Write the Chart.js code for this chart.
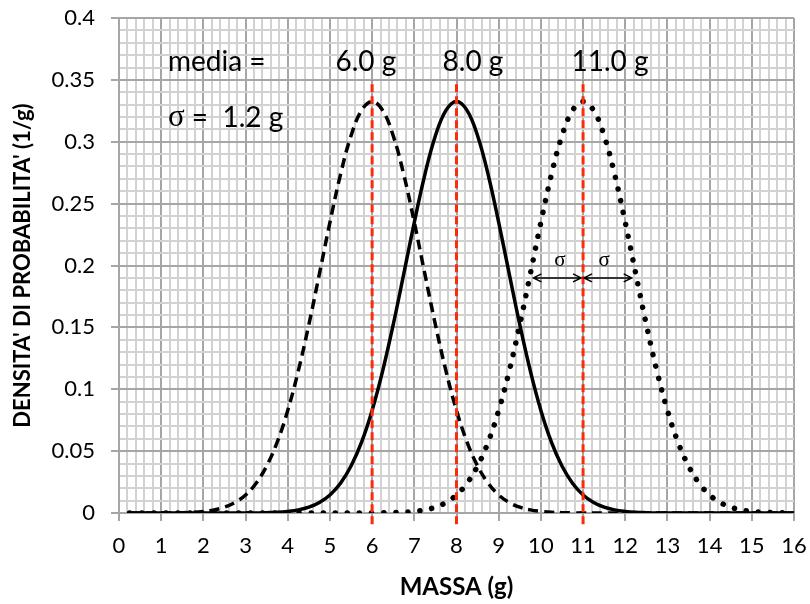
<!DOCTYPE html>
<html>
<head>
<meta charset="utf-8">
<script src="https://cdn.jsdelivr.net/npm/chart.js@4.4.0/dist/chart.umd.min.js"></script>
<style>
body { margin: 0; background: #fff; }
#box { width: 810px; height: 604px; }
</style>
</head>
<body>
<div id="box"><canvas id="chartGauss"></canvas></div>
<script>
// valori (massa in g, densita in 1/g)
const massa = [
    0.25, 0.5, 0.75, 1, 1.25, 1.5, 1.75, 2,
    2.25, 2.5, 2.75, 3, 3.25, 3.5, 3.75, 4,
    4.25, 4.5, 4.75, 5, 5.25, 5.5, 5.75, 6,
    6.25, 6.5, 6.75, 7, 7.25, 7.5, 7.75, 8,
    8.25, 8.5, 8.75, 9, 9.25, 9.5, 9.75, 10,
    10.25, 10.5, 10.75, 11, 11.25, 11.5, 11.75, 12,
    12.25, 12.5, 12.75, 13, 13.25, 13.5, 13.75, 14,
    14.25, 14.5, 14.75, 15, 15.25, 15.5, 15.75, 16
];
const densita6 = [
    0, 0, 0, 0.0001, 0.0001, 0.0003, 0.0006, 0.0013,
    0.0025, 0.0047, 0.0085, 0.0146, 0.0241, 0.0380, 0.0573, 0.0829,
    0.1148, 0.1522, 0.1932, 0.2349, 0.2735, 0.3048, 0.3253, 0.3325,
    0.3253, 0.3048, 0.2735, 0.2349, 0.1932, 0.1522, 0.1148, 0.0829,
    0.0573, 0.0380, 0.0241, 0.0146, 0.0085, 0.0047, 0.0025, 0.0013,
    0.0006, 0.0003, 0.0001, 0.0001, 0, 0, 0, 0,
    0, 0, 0, 0, 0, 0, 0, 0,
    0, 0, 0, 0, 0, 0, 0, 0
];
const densita8 = [
    0, 0, 0, 0, 0, 0, 0, 0,
    0, 0, 0, 0.0001, 0.0001, 0.0003, 0.0006, 0.0013,
    0.0025, 0.0047, 0.0085, 0.0146, 0.0241, 0.0380, 0.0573, 0.0829,
    0.1148, 0.1522, 0.1932, 0.2349, 0.2735, 0.3048, 0.3253, 0.3325,
    0.3253, 0.3048, 0.2735, 0.2349, 0.1932, 0.1522, 0.1148, 0.0829,
    0.0573, 0.0380, 0.0241, 0.0146, 0.0085, 0.0047, 0.0025, 0.0013,
    0.0006, 0.0003, 0.0001, 0.0001, 0, 0, 0, 0,
    0, 0, 0, 0, 0, 0, 0, 0
];
const densita11 = [
    0, 0, 0, 0, 0, 0, 0, 0,
    0, 0, 0, 0, 0, 0, 0, 0,
    0, 0, 0, 0, 0, 0, 0, 0.0001,
    0.0001, 0.0003, 0.0006, 0.0013, 0.0025, 0.0047, 0.0085, 0.0146,
    0.0241, 0.0380, 0.0573, 0.0829, 0.1148, 0.1522, 0.1932, 0.2349,
    0.2735, 0.3048, 0.3253, 0.3325, 0.3253, 0.3048, 0.2735, 0.2349,
    0.1932, 0.1522, 0.1148, 0.0829, 0.0573, 0.0380, 0.0241, 0.0146,
    0.0085, 0.0047, 0.0025, 0.0013, 0.0006, 0.0003, 0.0001, 0.0001
];

const medie = [6, 8, 11];
const etichetteMedie = ['6.0 g', '8.0 g', '11.0 g'];
const sigma = 1.2;
const rossoBasso = -0.009;
const rossoAlto = 0.35;
const frecciaY = 0.19;

function punti(valori) {
    var lista = [];
    for (var i = 0; i < massa.length; i++) {
        lista.push({ x: massa[i], y: valori[i] });
    }
    return lista;
}

function lineaMedia(m) {
    return {
        data: [{ x: m, y: rossoBasso }, { x: m, y: rossoAlto }],
        borderColor: '#ff2a0a',
        borderWidth: 3,
        borderDash: [8, 4],
        pointRadius: 0,
        tension: 0,
        clip: false,
        order: 0
    };
}

function curva(valori, dash, larghezza, cap) {
    return {
        data: punti(valori),
        borderColor: '#000',
        borderWidth: larghezza,
        borderDash: dash,
        borderCapStyle: cap,
        pointRadius: 0,
        tension: 0.4,
        order: 1
    };
}

function isIntero(v) {
    return Math.abs(v - Math.round(v)) < 1e-6;
}

function isCinquePct(v) {
    return Math.abs(v * 20 - Math.round(v * 20)) < 1e-6;
}

// testi e frecce sigma disegnati con le scale del grafico
const testiPlugin = {
    id: 'testi',
    afterDatasetsDraw(chart) {
        const c = chart.ctx;
        const sx = chart.scales.x;
        const sy = chart.scales.y;
        c.save();
        c.fillStyle = '#000';
        c.textBaseline = 'middle';

        c.font = '28px Lato';
        c.textAlign = 'left';
        c.fillText('media =', sx.getPixelForValue(1.16), sy.getPixelForValue(0.3644));

        c.textAlign = 'center';
        var posEtichette = [5.85, 8.39, 11.64];
        for (var i = 0; i < etichetteMedie.length; i++) {
            c.fillText(etichetteMedie[i], sx.getPixelForValue(posEtichette[i]), sy.getPixelForValue(0.3644));
        }

        c.textAlign = 'left';
        var xs = sx.getPixelForValue(1.16);
        var ys = sy.getPixelForValue(0.3192);
        c.font = '31px "Liberation Serif"';
        c.fillText('σ', xs, ys);
        var ws = c.measureText('σ').width;
        c.font = '28px Lato';
        c.fillText(' =  ' + sigma.toFixed(1) + ' g', xs + ws, ys);

        // frecce sigma
        var yF = sy.getPixelForValue(frecciaY);
        var tratti = [[medie[2] - sigma, medie[2]], [medie[2], medie[2] + sigma]];
        c.strokeStyle = '#000';
        c.lineWidth = 1.5;
        for (var j = 0; j < tratti.length; j++) {
            var a = sx.getPixelForValue(tratti[j][0]) + 1;
            var b = sx.getPixelForValue(tratti[j][1]) - 2;
            c.beginPath();
            c.moveTo(a, yF);
            c.lineTo(b, yF);
            c.moveTo(a + 8, yF - 4);
            c.lineTo(a, yF);
            c.lineTo(a + 8, yF + 4);
            c.moveTo(b - 8, yF - 4);
            c.lineTo(b, yF);
            c.lineTo(b - 8, yF + 4);
            c.stroke();
        }
        c.font = '21px "Liberation Serif"';
        c.textAlign = 'center';
        c.fillText('σ', sx.getPixelForValue(10.45), sy.getPixelForValue(0.2044));
        c.fillText('σ', sx.getPixelForValue(11.5), sy.getPixelForValue(0.2044));
        c.restore();
    }
};

const ctxGauss = document.getElementById('chartGauss');
var chartGauss = new Chart(ctxGauss, {
    type: 'line',
    data: {
        datasets: [
            lineaMedia(medie[0]),
            lineaMedia(medie[1]),
            lineaMedia(medie[2]),
            curva(densita6, [10, 6], 3.5, 'butt'),
            curva(densita8, [], 3.5, 'butt'),
            curva(densita11, [0.1, 12], 5.5, 'round')
        ]
    },
    options: {
        responsive: true,
        maintainAspectRatio: false,
        animation: false,
        layout: {
            padding: { top: 18, right: 16, left: 0, bottom: 0 }
        },
        plugins: {
            legend: { display: false },
            tooltip: { enabled: false }
        },
        scales: {
            x: {
                type: 'linear',
                min: 0,
                max: 16,
                afterFit: function (s) {
                    s.height = 91;
                    s.paddingLeft = 0;
                    s.paddingRight = 0;
                },
                ticks: {
                    stepSize: 0.2,
                    autoSkip: false,
                    maxRotation: 0,
                    padding: 12,
                    color: '#000',
                    font: { family: 'Lato', size: 22 },
                    callback: function (v) { return isIntero(v) ? String(Math.round(v)) : ''; }
                },
                grid: {
                    color: function (c) { return isIntero(c.tick.value) ? '#a6a6a6' : '#d2d2d2'; },
                    lineWidth: 2,
                    tickLength: 8,
                    tickWidth: 2,
                    tickColor: function (c) { return isIntero(c.tick.value) ? '#a6a6a6' : 'rgba(0,0,0,0)'; }
                },
                border: { color: '#a6a6a6', width: 2 },
                title: {
                    display: true,
                    text: 'MASSA (g)',
                    color: '#000',
                    font: { family: 'Lato', size: 24, weight: 'bold' },
                    padding: { top: 0, bottom: 2 }
                }
            },
            y: {
                min: 0,
                max: 0.4,
                afterFit: function (s) {
                    s.width = 119;
                    s.paddingTop = 0;
                    s.paddingBottom = 0;
                },
                ticks: {
                    stepSize: 0.01,
                    autoSkip: false,
                    padding: 16,
                    color: '#000',
                    font: { family: 'Lato', size: 22 },
                    callback: function (v) { return isCinquePct(v) ? String(parseFloat(v.toFixed(2))) : ''; }
                },
                grid: {
                    color: function (c) { return isCinquePct(c.tick.value) ? '#a6a6a6' : '#d2d2d2'; },
                    lineWidth: 2,
                    tickLength: 8,
                    tickWidth: 2,
                    tickColor: function (c) { return isCinquePct(c.tick.value) ? '#a6a6a6' : 'rgba(0,0,0,0)'; }
                },
                border: { color: '#a6a6a6', width: 2 },
                title: {
                    display: true,
                    text: "DENSITA' DI PROBABILITA' (1/g)",
                    color: '#000',
                    font: { family: 'Lato', size: 22, weight: 'bold' },
                    padding: { top: 10, bottom: 0 }
                }
            }
        }
    },
    plugins: [testiPlugin]
});
</script>
</body>
</html>
